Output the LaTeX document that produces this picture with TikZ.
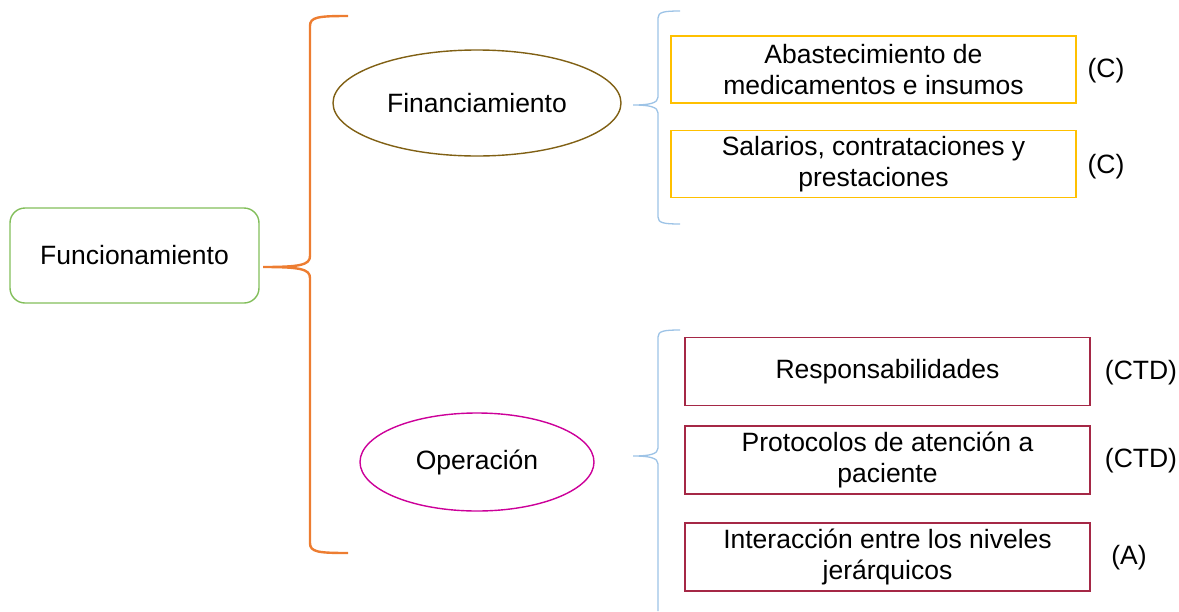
\documentclass[tikz,border=0pt]{standalone}
\usepackage{fontspec}
\setmainfont{Liberation Sans}
\usetikzlibrary{shapes.geometric}
\definecolor{cgreen}{RGB}{130,190,90}
\definecolor{corange}{RGB}{237,125,49}
\definecolor{cbrown}{RGB}{128,96,20}
\definecolor{cmag}{RGB}{204,0,153}
\definecolor{cblue}{RGB}{157,195,230}
\definecolor{cyellow}{RGB}{255,192,0}
\definecolor{cred}{RGB}{165,40,70}
\tikzset{
  txt/.style={font=\fontsize{26.5}{31}\selectfont, align=center, inner sep=0pt},
  ybox/.style={draw=cyellow, line width=1.4pt, minimum width=405pt, minimum height=67pt, txt},
  rbox/.style={draw=cred, line width=1.4pt, minimum width=405pt, minimum height=68pt, txt},
  tag/.style={txt},
  obrace/.style={draw=corange, line width=2.4pt},
  bbrace/.style={draw=cblue, line width=1.3pt}
}
\begin{document}
\begin{tikzpicture}[x=1pt,y=-1pt]
\useasboundingbox (0,0) rectangle (1179,611);
% root
\node[draw=cgreen, line width=1.4pt, rounded corners=15pt, minimum width=249pt, minimum height=95pt, txt] (fun) at (134.5,255.5) {Funcionamiento};
% ellipses
\node[ellipse, draw=cbrown, line width=1.4pt, minimum width=288pt, minimum height=106pt, txt] (fin) at (477,103) {Financiamiento};
\node[ellipse, draw=cmag, line width=1.4pt, minimum width=234pt, minimum height=98pt, txt] (ope) at (477,462) {Operación};
% yellow boxes
\node[ybox] (ab) at (873.5,69.5) {Abastecimiento de\\medicamentos e insumos};
\node[ybox] (sa) at (873.5,164) {Salarios, contrataciones y\\prestaciones};
\node[tag] (c1) at (1106,71) {(C)};
\node[tag] (c2) at (1106,167) {(C)};
% red boxes
\node[rbox] (re) at (887.5,371.5) {Responsabilidades};
\node[rbox] (pr) at (887.5,460) {Protocolos de atención a\\paciente};
\node[rbox] (in) at (887.5,557) {Interacción entre los niveles\\jerárquicos};
\node[tag] (t1) at (1141,373) {(CTD)};
\node[tag] (t2) at (1141,461) {(CTD)};
\node[tag] (t3) at (1129,558) {(A)};
% orange brace
\coordinate (oT) at (348,16);
\coordinate (oM) at (263,267);
\coordinate (oB) at (348,553);
\draw[obrace] (oT) .. controls (318,16) and (310,17) .. (310,26) -- (310,256)
  .. controls (310,265) and (300,267) .. (oM)
  .. controls (300,267) and (310,269) .. (310,278) -- (310,543)
  .. controls (310,552) and (318,553) .. (oB);
% top blue brace
\coordinate (bT) at (680,11);
\coordinate (bM) at (633,105);
\coordinate (bB) at (680,224);
\draw[bbrace] (bT) .. controls (664,11) and (658,12) .. (658,18) -- (658,97)
  .. controls (658,103) and (650,105) .. (bM)
  .. controls (650,105) and (658,107) .. (658,113) -- (658,217)
  .. controls (658,223) and (664,224) .. (bB);
% bottom blue brace
\coordinate (cT) at (680,330);
\coordinate (cM) at (633,456);
\coordinate (cB) at (658,611);
\draw[bbrace] (cT) .. controls (664,330) and (658,331) .. (658,337) -- (658,448)
  .. controls (658,454) and (650,456) .. (cM)
  .. controls (650,456) and (658,458) .. (658,464) -- (cB);
\end{tikzpicture}
\end{document}
